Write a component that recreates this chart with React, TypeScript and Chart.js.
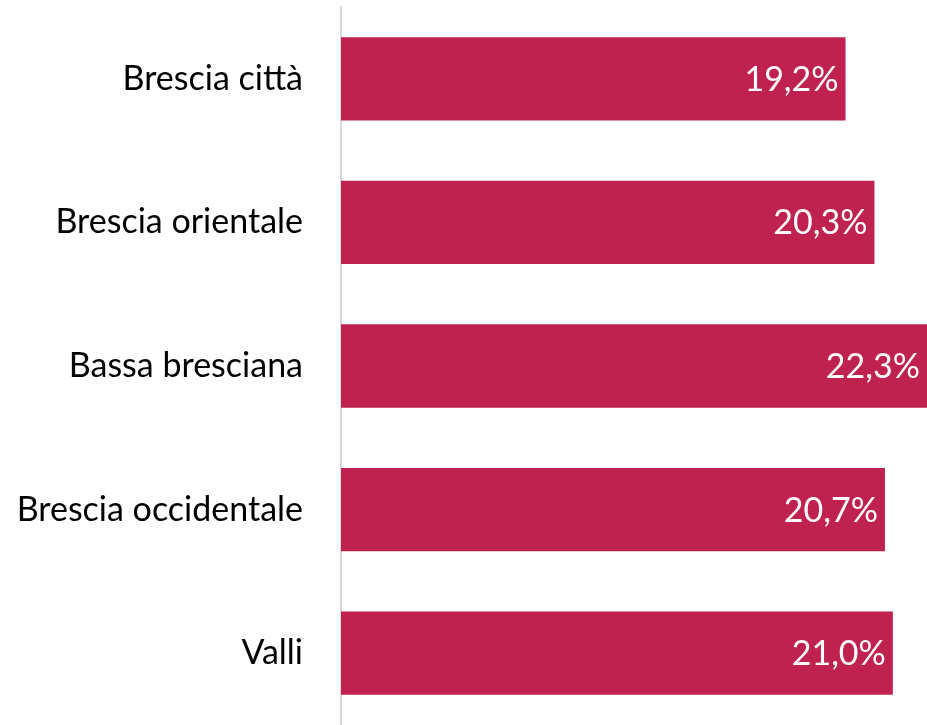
import React, { useEffect, useRef } from "react";
import { Chart, registerables } from "chart.js";

Chart.register(...registerables);

const categories = ["Brescia città", "Brescia orientale", "Bassa bresciana", "Brescia occidentale", "Valli"];
const values = [19.2, 20.3, 22.3, 20.7, 21.0];
const valueLabels = ["19,2%", "20,3%", "22,3%", "20,7%", "21,0%"];

const FONT = "Lato, 'Open Sans', sans-serif";
const FONT_SIZE = 34;

const dataLabelPlugin = {
  id: "dataLabels",
  afterDatasetsDraw(chart: any) {
    const ctx = chart.ctx;
    const meta = chart.getDatasetMeta(0);
    ctx.save();
    ctx.fillStyle = "#ffffff";
    ctx.font = `${FONT_SIZE}px ${FONT}`;
    ctx.textAlign = "right";
    ctx.textBaseline = "middle";
    meta.data.forEach((bar: any, i: number) => {
      ctx.fillText(valueLabels[i], bar.x - 7, bar.y + 1);
    });
    ctx.restore();
  },
};

export default function App() {
  const ref = useRef<HTMLCanvasElement>(null);
  useEffect(() => {
    if (!ref.current) return;
    const chart = new Chart(ref.current, {
      type: "bar",
      data: {
        labels: categories,
        datasets: [
          {
            data: values,
            backgroundColor: "#C0224F",
            borderWidth: 0,
            categoryPercentage: 1,
            barPercentage: 0.58,
          },
        ],
      },
      options: {
        indexAxis: "y",
        animation: false,
        responsive: false,
        maintainAspectRatio: false,
        layout: { padding: { top: 7, bottom: 0, left: 0, right: 0 } },
        plugins: { legend: { display: false }, tooltip: { enabled: false } },
        scales: {
          x: { display: false, min: 0, max: 22.3 },
          y: {
            afterFit(scale: any) {
              scale.width = 341;
              scale.paddingTop = 0;
              scale.paddingBottom = 0;
            },
            grid: { display: false, drawTicks: false },
            border: { display: true, color: "#d9d9d9", width: 2 },
            ticks: {
              color: "#000000",
              padding: 38,
              font: { family: FONT, size: FONT_SIZE },
            },
          },
        },
      },
      plugins: [dataLabelPlugin],
    });
    return () => chart.destroy();
  }, []);
  return (
    <div style={{ position: "fixed", left: 0, top: 0, width: 927, height: 725, background: "#fff" }}>
      <canvas ref={ref} width={927} height={725} style={{ width: 927, height: 725 }} />
    </div>
  );
}
